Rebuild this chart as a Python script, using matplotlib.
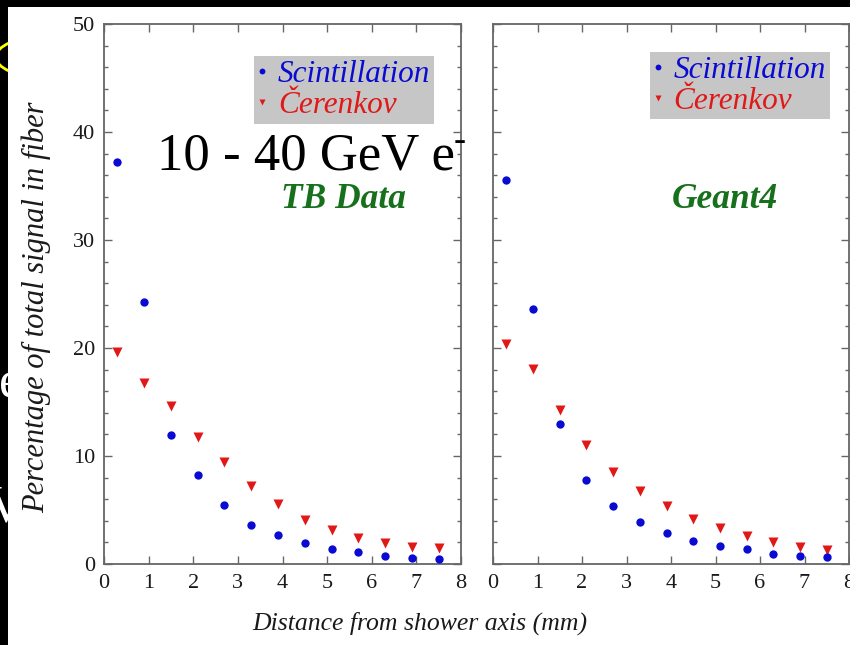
import matplotlib
matplotlib.use('Agg')
import matplotlib.pyplot as plt
from matplotlib.patches import Rectangle, Ellipse
from matplotlib.ticker import MultipleLocator
from matplotlib.transforms import IdentityTransform

plt.rcParams['font.family'] = 'Liberation Serif'

# distance from shower axis (mm)
distance = [0.3, 0.9, 1.5, 2.1, 2.7, 3.3, 3.9, 4.5, 5.1, 5.7, 6.3, 6.9, 7.5]

# TB data
tb_scint = [37.2, 24.3, 11.9, 8.2, 5.5, 3.6, 2.65, 1.9, 1.4, 1.1, 0.77, 0.56, 0.46]
tb_cer = [19.6, 16.8, 14.6, 11.8, 9.4, 7.25, 5.6, 4.1, 3.15, 2.45, 1.98, 1.55, 1.45]

# Geant4
g4_scint = [35.6, 23.6, 13.0, 7.8, 5.4, 3.9, 2.9, 2.15, 1.65, 1.4, 0.95, 0.77, 0.65]
g4_cer = [20.4, 18.1, 14.3, 11.0, 8.55, 6.75, 5.4, 4.2, 3.3, 2.6, 2.05, 1.6, 1.27]

panels = [
    ('TB Data', tb_scint, tb_cer),
    ('Geant4', g4_scint, g4_cer),
]

blue = '#0a0ad2'
red = '#e01818'
green = '#17701c'
spine_col = '#666666'

W, H = 850, 645
fig = plt.figure(figsize=(8.5, 6.45), dpi=100, facecolor='black')

# slide leftovers peeking out behind the plot image
fig.text(-1 / W, (H - 397) / H, 'e', color='white', fontsize=38, zorder=-3)
fig.text(-14 / W, (H - 522) / H, 'V', color='white', fontsize=38, zorder=-3)
fig.add_artist(Ellipse((42, H - 57), 92, 40, fill=False, edgecolor='yellow',
                       lw=2, transform=IdentityTransform(), zorder=-3))
fig.add_artist(Rectangle((8 / W, 0), 1, 1 - 7 / H, transform=fig.transFigure,
                         facecolor='white', edgecolor='none', zorder=-1))

ax1 = fig.add_axes([104 / W, 81 / H, 357 / W, 540 / H])
ax2 = fig.add_axes([493 / W, 81 / H, 356 / W, 540 / H])
legend_pos = [(0.925, 0.94), (0.946, 0.948)]
label_x = [0.672, 0.652]

for i, (ax, (name, scint, cer)) in enumerate(zip([ax1, ax2], panels)):
    ax.plot(distance, cer, 'v', color=red, ms=7, mec='none', label='Čerenkov', zorder=3)
    ax.plot(distance, scint, 'o', color=blue, ms=6, mec='none', label='Scintillation', zorder=3)
    ax.set_xlim(0, 8)
    ax.set_ylim(0, 50)
    ax.xaxis.set_major_locator(MultipleLocator(1))
    ax.yaxis.set_major_locator(MultipleLocator(10))
    ax.yaxis.set_minor_locator(MultipleLocator(2))
    ax.tick_params(which='both', direction='in', top=True, right=True,
                   color=spine_col, labelcolor='#1a1a1a', labelsize=16)
    ax.tick_params(which='major', length=5.5, width=1)
    ax.tick_params(which='minor', length=3, width=1)
    ax.tick_params(axis='y', pad=6.5)
    ax.tick_params(axis='x', pad=7)
    for s in ax.spines.values():
        s.set_color(spine_col)
        s.set_linewidth(1.3)
    if i == 1:
        ax.set_yticklabels([])

    h, l = ax.get_legend_handles_labels()
    ax.legend(h[::-1], l[::-1], loc='upper right', bbox_to_anchor=legend_pos[i],
              frameon=True, fancybox=False, facecolor='#c6c6c6', edgecolor='none',
              framealpha=1, prop={'style': 'italic', 'size': 22.5},
              labelcolor=[blue, red], handlelength=0.3, handletextpad=0.35,
              markerscale=0.7, borderpad=0.12, labelspacing=0.06,
              borderaxespad=0)
    ax.text(label_x[i], 0.659, name, transform=ax.transAxes, ha='center',
            va='baseline', color=green, fontsize=25.5, fontweight='bold', style='italic')

fig.text(157 / W, (H - 170) / H, '10 - 40 GeV e', fontsize=38, va='baseline',
         color='black', zorder=10)
fig.text(454 / W, (H - 150) / H, '-', fontsize=26, va='baseline',
         color='black', zorder=10)
fig.text(420 / W, (H - 630) / H, 'Distance from shower axis (mm)', fontsize=18.5,
         style='italic', ha='center', va='baseline', color='#1a1a1a')
fig.text(36 / W, (H - 307) / H, 'Percentage of total signal in fiber', fontsize=22,
         style='italic', rotation=90, ha='center', va='center', color='#1a1a1a')

fig.savefig('out.png', dpi=100, facecolor=fig.get_facecolor())
